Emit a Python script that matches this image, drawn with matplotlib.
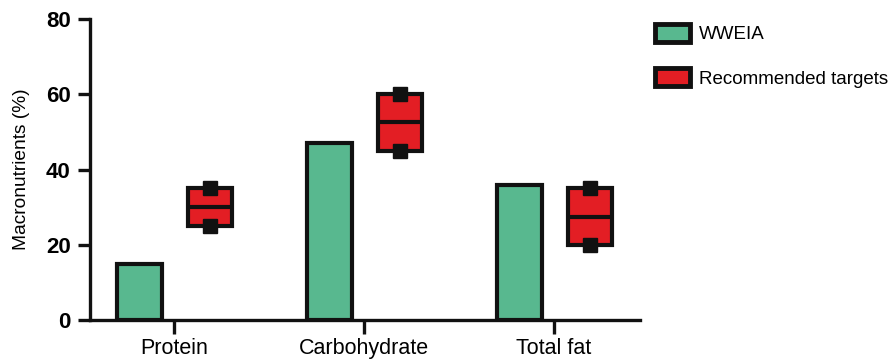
import matplotlib.pyplot as plt
from matplotlib.patches import Patch

plt.rcParams['font.family'] = ['Liberation Sans', 'DejaVu Sans']

categories = ["Protein", "Carbohydrate", "Total fat"]
wweia = [15, 47, 36]
target_low = [25, 45, 20]
target_mid = [30, 52.5, 27.5]
target_high = [35, 60, 35]

green = "#58b88f"
red = "#e31e24"
edge = "#111111"
lw = 3

fig = plt.figure(figsize=(8.88, 3.64), dpi=100)
ax = fig.add_axes([90 / 888, 1 - 320 / 364, (640 - 90) / 888, (320 - 19) / 364])

x = list(range(len(categories)))
bw = 0.235
xb = [i - 0.18 for i in x]
xt = [i + 0.19 for i in x]

ax.bar(xb, wweia, width=bw, color=green, edgecolor=edge, linewidth=lw, zorder=2)
heights = [h - l for h, l in zip(target_high, target_low)]
ax.bar(xt, heights, bottom=target_low, width=bw, color=red, edgecolor=edge,
       linewidth=lw, zorder=2)
ax.hlines(target_mid, [v - bw / 2 for v in xt], [v + bw / 2 for v in xt],
          color=edge, linewidth=lw, zorder=3)
ax.plot(xt, target_low, 's', color=edge, markersize=9.5, zorder=4)
ax.plot(xt, target_high, 's', color=edge, markersize=9.5, zorder=4)

ax.set_xlim(-0.442, 2.453)
ax.set_ylim(0, 80)
ax.set_yticks([0, 20, 40, 60, 80])
ax.set_xticks(x)
ax.set_xticklabels(categories, fontsize=15.5)
for t in ax.get_yticklabels():
    t.set_fontweight('bold')
    t.set_fontsize(16)
ax.set_ylabel("Macronutrients (%)", fontsize=13.8)
ax.yaxis.set_label_coords(-0.11, 0.5)

for s in ['top', 'right']:
    ax.spines[s].set_visible(False)
for s in ['left', 'bottom']:
    ax.spines[s].set_linewidth(2.4)
    ax.spines[s].set_color(edge)
ax.tick_params(axis='y', length=9, width=2.4, color=edge, pad=5)
ax.tick_params(axis='x', length=10, width=2.4, color=edge, pad=3)

handles = [Patch(facecolor=green, edgecolor=edge, linewidth=3.5, label="WWEIA"),
           Patch(facecolor=red, edgecolor=edge, linewidth=3.5, label="Recommended targets")]
fig.legend(handles=handles, loc='upper left', bbox_to_anchor=(0.738, 0.935),
           frameon=False, fontsize=13.5, handlelength=1.85, handleheight=1.1,
           labelspacing=1.35, handletextpad=0.5, borderaxespad=0, borderpad=0)

fig.savefig("out.png", dpi=100)
